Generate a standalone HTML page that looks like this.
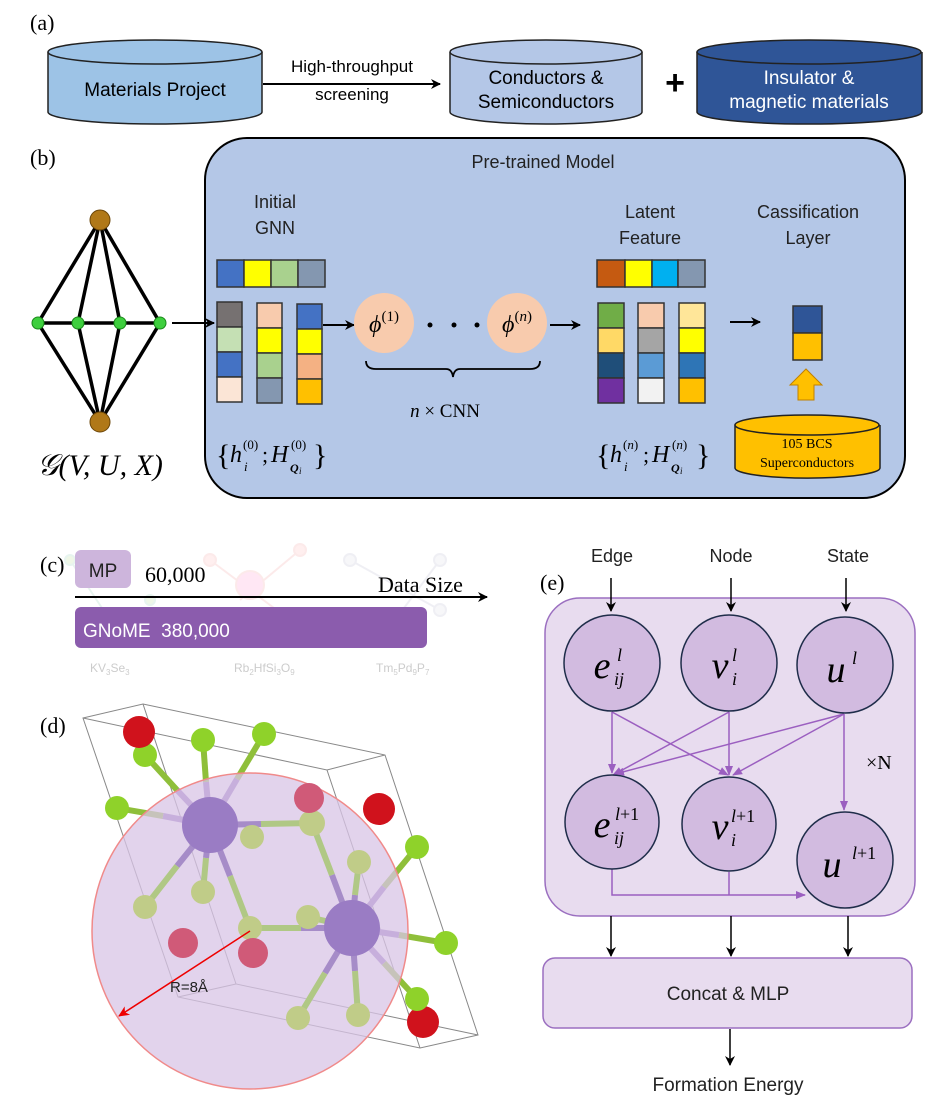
<!DOCTYPE html>
<html><head><meta charset="utf-8"><style>
html,body{margin:0;padding:0;background:#fff}
svg{display:block}
text{font-family:"Liberation Sans",sans-serif}
.s{font-family:"Liberation Serif",serif}
</style></head><body>
<svg width="938" height="1113" viewBox="0 0 938 1113" xmlns="http://www.w3.org/2000/svg">
<defs>
<marker id="ak" markerWidth="10" markerHeight="10" refX="9" refY="5" orient="auto" markerUnits="userSpaceOnUse"><path d="M0,0 L10,5 L0,10 L3,5 z" fill="#000"/></marker>
<marker id="ap" markerWidth="10" markerHeight="10" refX="9" refY="5" orient="auto" markerUnits="userSpaceOnUse"><path d="M0,1 L10,5 L0,9 z" fill="#9b5fc0"/></marker>
<marker id="ar" markerWidth="12" markerHeight="12" refX="10" refY="6" orient="auto" markerUnits="userSpaceOnUse"><path d="M0,1 L11,6 L0,11 L3,6 z" fill="#e00"/></marker>
</defs>

<!-- (a) -->
<text x="30" y="30" class="s" font-size="22">(a)</text>
<g stroke="#222" stroke-width="1.5">
<path d="M48,52 V112 A107,12 0 0 0 262,112 V52" fill="#9dc3e6"/>
<ellipse cx="155" cy="52" rx="107" ry="12" fill="#9dc3e6"/>
<path d="M450,52 V112 A96,12 0 0 0 642,112 V52" fill="#b4c7e7"/>
<ellipse cx="546" cy="52" rx="96" ry="12" fill="#b4c7e7"/>
<path d="M697,52 V112 A112,12 0 0 0 922,112 V52" fill="#2f5597"/>
<ellipse cx="809" cy="52" rx="112" ry="12" fill="#2f5597"/>
</g>
<text x="155" y="96" font-size="19" text-anchor="middle">Materials Project</text>
<line x1="263" y1="84" x2="440" y2="84" stroke="#000" stroke-width="2" marker-end="url(#ak)"/>
<text x="352" y="72" font-size="17" text-anchor="middle">High-throughput</text>
<text x="352" y="100" font-size="17" text-anchor="middle">screening</text>
<text x="546" y="84" font-size="19" text-anchor="middle">Conductors &amp;</text>
<text x="546" y="108" font-size="19" text-anchor="middle">Semiconductors</text>
<text x="675" y="94" font-size="34" font-weight="bold" text-anchor="middle">+</text>
<text x="809" y="84" font-size="19" text-anchor="middle" fill="#fff">Insulator &amp;</text>
<text x="809" y="108" font-size="19" text-anchor="middle" fill="#fff">magnetic materials</text>

<!-- (b) -->
<text x="30" y="165" class="s" font-size="22">(b)</text>
<rect x="205" y="138" width="700" height="360" rx="42" fill="#b4c7e7" stroke="#000" stroke-width="2"/>
<text x="543" y="168" font-size="18" text-anchor="middle" fill="#222">Pre-trained Model</text>
<g stroke="#000" stroke-width="3.5">
<line x1="100" y1="220" x2="38" y2="323"/><line x1="100" y1="220" x2="78" y2="323"/><line x1="100" y1="220" x2="120" y2="323"/><line x1="100" y1="220" x2="160" y2="323"/>
<line x1="100" y1="422" x2="38" y2="323"/><line x1="100" y1="422" x2="78" y2="323"/><line x1="100" y1="422" x2="120" y2="323"/><line x1="100" y1="422" x2="160" y2="323"/>
<line x1="38" y1="323" x2="160" y2="323"/>
</g>
<circle cx="100" cy="220" r="10" fill="#b07818" stroke="#6a4508"/>
<circle cx="100" cy="422" r="10" fill="#b07818" stroke="#6a4508"/>
<g fill="#3ecf3e" stroke="#1a8a1a"><circle cx="38" cy="323" r="6"/><circle cx="78" cy="323" r="6"/><circle cx="120" cy="323" r="6"/><circle cx="160" cy="323" r="6"/></g>
<line x1="172" y1="323" x2="214" y2="323" stroke="#000" stroke-width="2" marker-end="url(#ak)"/>
<text x="100" y="475" class="s" font-size="30" font-style="italic" text-anchor="middle">𝒢(V, U, X)</text>

<text x="275" y="208" font-size="18" text-anchor="middle" fill="#222">Initial</text>
<text x="275" y="234" font-size="18" text-anchor="middle" fill="#222">GNN</text>
<text x="650" y="218" font-size="18" text-anchor="middle" fill="#222">Latent</text>
<text x="650" y="244" font-size="18" text-anchor="middle" fill="#222">Feature</text>
<text x="808" y="218" font-size="18" text-anchor="middle" fill="#222">Cassification</text>
<text x="808" y="244" font-size="18" text-anchor="middle" fill="#222">Layer</text>

<g stroke="#333" stroke-width="1.5">
<rect x="217" y="260" width="27" height="27" fill="#4472c4"/><rect x="244" y="260" width="27" height="27" fill="#ffff00"/><rect x="271" y="260" width="27" height="27" fill="#a9d18e"/><rect x="298" y="260" width="27" height="27" fill="#8497b0"/>
<rect x="217" y="302" width="25" height="25" fill="#767171"/><rect x="217" y="327" width="25" height="25" fill="#c5e0b4"/><rect x="217" y="352" width="25" height="25" fill="#4472c4"/><rect x="217" y="377" width="25" height="25" fill="#fbe5d6"/>
<rect x="257" y="303" width="25" height="25" fill="#f8cbad"/><rect x="257" y="328" width="25" height="25" fill="#ffff00"/><rect x="257" y="353" width="25" height="25" fill="#a9d18e"/><rect x="257" y="378" width="25" height="25" fill="#8497b0"/>
<rect x="297" y="304" width="25" height="25" fill="#4472c4"/><rect x="297" y="329" width="25" height="25" fill="#ffff00"/><rect x="297" y="354" width="25" height="25" fill="#f4b183"/><rect x="297" y="379" width="25" height="25" fill="#ffc000"/>
<rect x="597" y="260" width="28" height="27" fill="#c55a11"/><rect x="625" y="260" width="27" height="27" fill="#ffff00"/><rect x="652" y="260" width="26" height="27" fill="#00b0f0"/><rect x="678" y="260" width="27" height="27" fill="#8497b0"/>
<rect x="598" y="303" width="26" height="25" fill="#70ad47"/><rect x="598" y="328" width="26" height="25" fill="#ffd966"/><rect x="598" y="353" width="26" height="25" fill="#1f4e79"/><rect x="598" y="378" width="26" height="25" fill="#7030a0"/>
<rect x="638" y="303" width="26" height="25" fill="#f8cbad"/><rect x="638" y="328" width="26" height="25" fill="#a5a5a5"/><rect x="638" y="353" width="26" height="25" fill="#5b9bd5"/><rect x="638" y="378" width="26" height="25" fill="#f2f2f2"/>
<rect x="679" y="303" width="26" height="25" fill="#ffe699"/><rect x="679" y="328" width="26" height="25" fill="#ffff00"/><rect x="679" y="353" width="26" height="25" fill="#2e75b6"/><rect x="679" y="378" width="26" height="25" fill="#ffc000"/>
<rect x="793" y="306" width="29" height="27" fill="#2f5597"/><rect x="793" y="333" width="29" height="27" fill="#ffc000"/>
</g>
<line x1="323" y1="325" x2="354" y2="325" stroke="#000" stroke-width="2" marker-end="url(#ak)"/>
<circle cx="384" cy="323" r="30" fill="#f8cbad"/>
<circle cx="517" cy="323" r="30" fill="#f8cbad"/>
<text x="384" y="332" class="s" font-size="24" font-style="italic" text-anchor="middle">ϕ<tspan font-size="15" dy="-11" font-style="normal">(1)</tspan></text>
<text x="517" y="332" class="s" font-size="24" font-style="italic" text-anchor="middle">ϕ<tspan font-size="15" dy="-11" font-style="normal">(<tspan font-style="italic">n</tspan>)</tspan></text>
<circle cx="430" cy="325" r="2.5"/><circle cx="454" cy="325" r="2.5"/><circle cx="477" cy="325" r="2.5"/>
<line x1="550" y1="325" x2="580" y2="325" stroke="#000" stroke-width="2" marker-end="url(#ak)"/>
<path d="M366,361 Q366,369 376,369 L446,369 Q452,369 453,377 Q454,369 460,369 L530,369 Q540,369 540,361" fill="none" stroke="#000" stroke-width="1.8"/>
<text x="445" y="417" class="s" font-size="19" text-anchor="middle"><tspan font-style="italic">n</tspan> × CNN</text>

<g class="s">
<text x="216" y="465" class="s" font-size="30">{</text>
<text x="230" y="462" class="s" font-size="24" font-style="italic">h</text>
<text x="243" y="449" class="s" font-size="13">(0)</text>
<text x="244" y="471" class="s" font-size="13" font-style="italic">i</text>
<text x="262" y="462" class="s" font-size="22">;</text>
<text x="271" y="462" class="s" font-size="24" font-style="italic">H</text>
<text x="291" y="449" class="s" font-size="13">(0)</text>
<text x="290" y="472" class="s" font-size="12" font-style="italic" font-weight="bold">Q</text>
<text x="299" y="474" class="s" font-size="9" font-style="italic">i</text>
<text x="313" y="465" class="s" font-size="30">}</text>

<text x="596" y="465" class="s" font-size="30">{</text>
<text x="610" y="462" class="s" font-size="24" font-style="italic">h</text>
<text x="623" y="449" class="s" font-size="13">(<tspan font-style="italic">n</tspan>)</text>
<text x="624" y="471" class="s" font-size="13" font-style="italic">i</text>
<text x="643" y="462" class="s" font-size="22">;</text>
<text x="652" y="462" class="s" font-size="24" font-style="italic">H</text>
<text x="672" y="449" class="s" font-size="13">(<tspan font-style="italic">n</tspan>)</text>
<text x="671" y="472" class="s" font-size="12" font-style="italic" font-weight="bold">Q</text>
<text x="680" y="474" class="s" font-size="9" font-style="italic">i</text>
<text x="696" y="465" class="s" font-size="30">}</text>
</g>

<line x1="730" y1="322" x2="760" y2="322" stroke="#000" stroke-width="2" marker-end="url(#ak)"/>
<path d="M798,400 V385 H790 L806,369 L822,385 H814 V400 z" fill="#ffc000" stroke="#c08000"/>
<path d="M735,425 V468 A72,10 0 0 0 880,468 V425" fill="#ffc000" stroke="#222" stroke-width="1.5"/>
<ellipse cx="807" cy="425" rx="72" ry="10" fill="#ffc000" stroke="#222" stroke-width="1.5"/>
<text x="807" y="448" class="s" font-size="14" text-anchor="middle">105 BCS</text>
<text x="807" y="467" class="s" font-size="14" text-anchor="middle">Superconductors</text>

<!-- (c) faint background -->
<g opacity="0.15" stroke-width="2">
<g stroke="#6b9" fill="#9c6"><line x1="70" y1="560" x2="110" y2="620"/><circle cx="70" cy="560" r="5"/><circle cx="110" cy="620" r="5"/><circle cx="150" cy="600" r="5"/></g>
<g stroke="#e77" fill="#f99"><line x1="210" y1="560" x2="290" y2="620"/><line x1="240" y1="600" x2="300" y2="550"/><circle cx="250" cy="585" r="14" fill="#f6b"/><circle cx="210" cy="560" r="6"/><circle cx="300" cy="550" r="6"/><circle cx="290" cy="620" r="6"/><circle cx="260" cy="640" r="6"/></g>
<g stroke="#99b" fill="#ccd"><line x1="350" y1="560" x2="440" y2="610"/><line x1="380" y1="640" x2="440" y2="560"/><circle cx="350" cy="560" r="6"/><circle cx="440" cy="610" r="6"/><circle cx="440" cy="560" r="6"/><circle cx="380" cy="640" r="6"/></g>
</g>
<text x="40" y="572" class="s" font-size="22">(c)</text>
<rect x="75" y="550" width="56" height="38" rx="6" fill="#cdb5dc"/>
<text x="103" y="577" font-size="19" text-anchor="middle" fill="#222">MP</text>
<text x="145" y="582" class="s" font-size="22">60,000</text>
<text x="378" y="592" class="s" font-size="22">Data Size</text>
<line x1="75" y1="597" x2="487" y2="597" stroke="#000" stroke-width="2" marker-end="url(#ak)"/>
<rect x="75" y="607" width="352" height="41" rx="6" fill="#8b5cad"/>
<text x="83" y="637" font-size="19" fill="#fff" xml:space="preserve">GNoME  380,000</text>
<text x="90" y="672" font-size="12" fill="#ccc">KV<tspan font-size="8" dy="3">3</tspan><tspan dy="-3">Se</tspan><tspan font-size="8" dy="3">3</tspan></text>
<text x="234" y="672" font-size="12" fill="#ccc">Rb<tspan font-size="8" dy="3">2</tspan><tspan dy="-3">HfSi</tspan><tspan font-size="8" dy="3">3</tspan><tspan dy="-3">O</tspan><tspan font-size="8" dy="3">9</tspan></text>
<text x="376" y="672" font-size="12" fill="#ccc">Tm<tspan font-size="8" dy="3">5</tspan><tspan dy="-3">Pd</tspan><tspan font-size="8" dy="3">9</tspan><tspan dy="-3">P</tspan><tspan font-size="8" dy="3">7</tspan></text>

<!-- (d) -->
<text x="40" y="733" class="s" font-size="22">(d)</text>
<g stroke="#888" stroke-width="1" fill="none">
<path d="M83,718 L143,704 L385,755 L478,1035 L420,1048 L178,997 Z"/>
<path d="M83,718 L327,770 L385,755 M327,770 L420,1048 M143,704 L236,984 L478,1035 M178,997 L236,984"/>
</g>
<g stroke-width="6">
<g stroke="#9370c0"><line x1="210" y1="825" x2="163" y2="816"/><line x1="210" y1="825" x2="177" y2="790"/><line x1="210" y1="825" x2="206" y2="782"/><line x1="210" y1="825" x2="237" y2="779"/>
<line x1="352" y1="928" x2="384" y2="887"/><line x1="352" y1="928" x2="399" y2="935"/><line x1="352" y1="928" x2="384" y2="963"/></g>
<g stroke="#8fbf3a"><line x1="163" y1="816" x2="117" y2="808"/><line x1="177" y1="790" x2="145" y2="755"/><line x1="206" y1="782" x2="203" y2="740"/><line x1="237" y1="779" x2="264" y2="734"/>
<line x1="384" y1="887" x2="417" y2="847"/><line x1="399" y1="935" x2="446" y2="943"/><line x1="384" y1="963" x2="417" y2="999"/></g>
</g>
<circle cx="145" cy="755" r="12" fill="#8fd22a"/><circle cx="117" cy="808" r="12" fill="#8fd22a"/><circle cx="203" cy="740" r="12" fill="#8fd22a"/><circle cx="264" cy="734" r="12" fill="#8fd22a"/>
<circle cx="139" cy="732" r="16" fill="#d0121c"/><circle cx="379" cy="809" r="16" fill="#d0121c"/>
<circle cx="417" cy="847" r="12" fill="#8fd22a"/><circle cx="446" cy="943" r="12" fill="#8fd22a"/><circle cx="423" cy="1022" r="16" fill="#d0121c"/><circle cx="417" cy="999" r="12" fill="#8fd22a"/>
<circle cx="250" cy="931" r="158" fill="#d8c4e6" fill-opacity="0.75" stroke="#f08a8a" stroke-width="1.5"/>
<g stroke-width="6">
<g stroke="#a68cc8"><line x1="210" y1="825" x2="206" y2="858"/><line x1="210" y1="825" x2="177" y2="866"/><line x1="210" y1="825" x2="230" y2="876"/><line x1="210" y1="825" x2="261" y2="824"/>
<line x1="352" y1="928" x2="332" y2="875"/><line x1="352" y1="928" x2="301" y2="928"/><line x1="352" y1="928" x2="325" y2="973"/><line x1="352" y1="928" x2="355" y2="971"/><line x1="352" y1="928" x2="355" y2="895"/><line x1="352" y1="928" x2="330" y2="922"/></g>
<g stroke="#b0c885"><line x1="206" y1="858" x2="203" y2="892"/><line x1="177" y1="866" x2="145" y2="907"/><line x1="230" y1="876" x2="250" y2="928"/><line x1="261" y1="824" x2="312" y2="823"/>
<line x1="332" y1="875" x2="312" y2="823"/><line x1="301" y1="928" x2="250" y2="928"/><line x1="325" y1="973" x2="298" y2="1018"/><line x1="355" y1="971" x2="358" y2="1015"/><line x1="355" y1="895" x2="359" y2="862"/><line x1="330" y1="922" x2="308" y2="917"/></g>
</g>
<g fill="#c0cc88"><circle cx="252" cy="837" r="12"/><circle cx="312" cy="823" r="13"/><circle cx="359" cy="862" r="12"/><circle cx="203" cy="892" r="12"/><circle cx="145" cy="907" r="12"/><circle cx="250" cy="928" r="12"/><circle cx="308" cy="917" r="12"/><circle cx="298" cy="1018" r="12"/><circle cx="358" cy="1015" r="12"/></g>
<g fill="#d05a78"><circle cx="309" cy="798" r="15"/><circle cx="183" cy="943" r="15"/><circle cx="253" cy="953" r="15"/></g>
<circle cx="210" cy="825" r="28" fill="#9a7cc4"/><circle cx="352" cy="928" r="28" fill="#9a7cc4"/>
<line x1="250" y1="931" x2="119" y2="1016" stroke="#e00" stroke-width="1.5" marker-end="url(#ar)"/>
<text x="170" y="992" font-size="15" fill="#222">R=8Å</text>

<!-- (e) -->
<text x="540" y="590" class="s" font-size="22">(e)</text>
<text x="612" y="562" font-size="18" text-anchor="middle" fill="#222">Edge</text>
<text x="731" y="562" font-size="18" text-anchor="middle" fill="#222">Node</text>
<text x="848" y="562" font-size="18" text-anchor="middle" fill="#222">State</text>
<rect x="545" y="598" width="370" height="318" rx="35" fill="#e8dcef" stroke="#9b6fc0" stroke-width="1.5"/>
<g stroke="#000" stroke-width="1.5"><line x1="611" y1="578" x2="611" y2="611" marker-end="url(#ak)"/><line x1="731" y1="578" x2="731" y2="611" marker-end="url(#ak)"/><line x1="846" y1="578" x2="846" y2="611" marker-end="url(#ak)"/></g>
<g stroke="#9b5fc0" stroke-width="1.5" fill="none">
<line x1="612" y1="712" x2="612" y2="773" marker-end="url(#ap)"/>
<line x1="612" y1="712" x2="728" y2="775" marker-end="url(#ap)"/>
<line x1="729" y1="712" x2="613" y2="775" marker-end="url(#ap)"/>
<line x1="729" y1="712" x2="729" y2="775" marker-end="url(#ap)"/>
<line x1="844" y1="714" x2="615" y2="774" marker-end="url(#ap)"/>
<line x1="844" y1="714" x2="733" y2="775" marker-end="url(#ap)"/>
<line x1="844" y1="714" x2="844" y2="810" marker-end="url(#ap)"/>
<polyline points="612,868 612,895 805,895" marker-end="url(#ap)"/>
<line x1="729" y1="872" x2="729" y2="895"/>
</g>
<g fill="#d2bbe0" stroke="#1f2d4a" stroke-width="1.5">
<circle cx="612" cy="663" r="48"/><circle cx="729" cy="663" r="48"/><circle cx="845" cy="665" r="48"/>
<circle cx="612" cy="822" r="47"/><circle cx="729" cy="824" r="47"/><circle cx="845" cy="860" r="48"/>
</g>
<g font-style="italic">
<text x="602" y="678" font-size="38" text-anchor="middle" class="s">e</text><text x="617" y="661" font-size="18" class="s">l</text><text x="614" y="685" font-size="18" class="s">ij</text>
<text x="720" y="678" font-size="38" text-anchor="middle" class="s">v</text><text x="732" y="661" font-size="18" class="s">l</text><text x="732" y="685" font-size="18" class="s">i</text>
<text x="836" y="682" font-size="38" text-anchor="middle" class="s">u</text><text x="852" y="664" font-size="18" class="s">l</text>
<text x="602" y="837" font-size="38" text-anchor="middle" class="s">e</text><text x="615" y="820" font-size="18" class="s">l<tspan font-style="normal">+1</tspan></text><text x="614" y="844" font-size="18" class="s">ij</text>
<text x="720" y="839" font-size="38" text-anchor="middle" class="s">v</text><text x="731" y="822" font-size="18" class="s">l<tspan font-style="normal">+1</tspan></text><text x="731" y="846" font-size="18" class="s">i</text>
<text x="832" y="877" font-size="38" text-anchor="middle" class="s">u</text><text x="852" y="859" font-size="18" class="s">l<tspan font-style="normal">+1</tspan></text>
</g>
<text x="866" y="769" class="s" font-size="20">×N</text>
<g stroke="#000" stroke-width="1.5"><line x1="611" y1="916" x2="611" y2="956" marker-end="url(#ak)"/><line x1="731" y1="916" x2="731" y2="956" marker-end="url(#ak)"/><line x1="848" y1="916" x2="848" y2="956" marker-end="url(#ak)"/>
<line x1="730" y1="1029" x2="730" y2="1065" marker-end="url(#ak)"/></g>
<rect x="543" y="958" width="369" height="70" rx="12" fill="#e8dcef" stroke="#9b6fc0" stroke-width="1.5"/>
<text x="728" y="1000" font-size="19" text-anchor="middle" fill="#222">Concat &amp; MLP</text>
<text x="728" y="1091" font-size="19" text-anchor="middle" fill="#222">Formation Energy</text>
</svg>
</body></html>
